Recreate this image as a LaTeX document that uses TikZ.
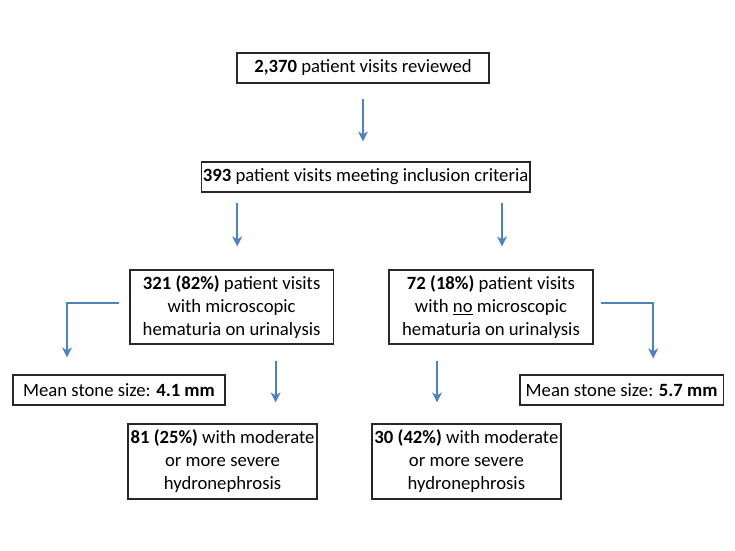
\documentclass[tikz,border=0pt]{standalone}
\usepackage{fontspec}
\setmainfont{Carlito}
\usepackage{tikz}
\usetikzlibrary{arrows.meta,positioning}
\definecolor{flow-blue}{RGB}{79,129,189}
\definecolor{box-line}{RGB}{40,40,40}

\begin{document}
\begin{tikzpicture}[every node/.style={font=\fontsize{13.3}{16.4}\selectfont},
  box/.style={draw=box-line, line width=0.9pt, align=center, inner sep=1pt},
  flow/.style={draw=flow-blue, line width=1.5pt, -{Stealth[length=7pt,width=7pt,inset=2pt]}}]
  \useasboundingbox (0,0) rectangle (18.375,13.775);

  % Top
  \node[box, minimum width=6.3cm, minimum height=0.75cm] (reviewed) at (9.075,12.075) {\textbf{2,370} patient visits reviewed};
  \node[box, minimum width=8.22cm, minimum height=0.75cm] (included) at (9.14,9.35) {\textbf{393} patient visits meeting inclusion criteria};

  % Hematuria split
  \node[box, minimum width=5.08cm, minimum height=1.85cm] (hemaYes) at (5.79,6.1) {\textbf{321 (82\%)} patient visits\\with microscopic\\hematuria on urinalysis};
  \node[box, minimum width=5.1cm, minimum height=1.85cm] (hemaNo) at (12.275,6.1) {\textbf{72 (18\%)} patient visits\\with \underline{no} microscopic\\hematuria on urinalysis};

  % Stone size
  \node[box, minimum width=5.3cm, minimum height=0.75cm] (sizeYes) at (2.975,4.025) {Mean stone size: \textbf{4.1 mm}};
  \node[box, minimum width=5.08cm, minimum height=0.75cm] (sizeNo) at (15.54,4.025) {Mean stone size: \textbf{5.7 mm}};

  % Hydronephrosis
  \node[box, minimum width=4.725cm, minimum height=1.875cm] (hydroYes) at (5.5625,2.2375) {\textbf{81 (25\%)} with moderate\\or more severe\\hydronephrosis};
  \node[box, minimum width=4.725cm, minimum height=1.875cm] (hydroNo) at (11.66,2.2375) {\textbf{30 (42\%)} with moderate\\or more severe\\hydronephrosis};

  % Arrows
  \draw[flow, shorten <=0.375cm, shorten >=0.5cm] (reviewed.south) -- (reviewed.south |- included.north);
  \draw[flow, shorten <=0.25cm, shorten >=0.575cm] ([xshift=0.14cm]hemaYes.north |- included.south) -- ([xshift=0.14cm]hemaYes.north);
  \draw[flow, shorten <=0.25cm, shorten >=0.575cm] ([xshift=0.275cm]hemaNo.north |- included.south) -- ([xshift=0.275cm]hemaNo.north);
  \draw[flow, shorten <=0.25cm, shorten >=0.425cm] ([yshift=0.1cm]hemaYes.west) -| ([xshift=-1.3cm]sizeYes.north);
  \draw[flow, shorten <=0.175cm, shorten >=0.4cm] ([yshift=0.1cm]hemaNo.east) -| ([xshift=0.79cm]sizeNo.north);
  \draw[flow, shorten <=0.4cm, shorten >=0.525cm] ([xshift=1.1cm]hemaYes.south) -- ([xshift=1.1cm]hemaYes.south |- hydroYes.north);
  \draw[flow, shorten <=0.4cm, shorten >=0.525cm] ([xshift=-1.35cm]hemaNo.south) -- ([xshift=-1.35cm]hemaNo.south |- hydroNo.north);
\end{tikzpicture}
\end{document}
